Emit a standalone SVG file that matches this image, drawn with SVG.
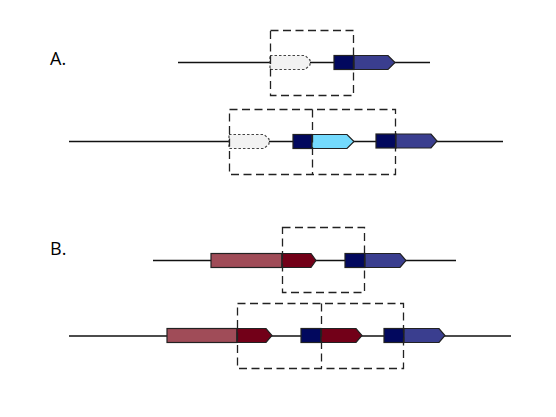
<svg xmlns="http://www.w3.org/2000/svg" width="556" height="417" viewBox="0 0 556 417">
<style>
.bb{stroke:#111;stroke-width:1.3;fill:none}
.g{stroke:#222;stroke-width:1.2;stroke-linejoin:miter}
.ghost{fill:#f2f2f2;stroke:#444;stroke-width:1.2;stroke-dasharray:2.5,2}
.box{fill:none;stroke:#222;stroke-width:1.3;stroke-dasharray:8,4.5}
.nv{fill:#02085e}
.bl{fill:#3a3e8f}
.lb{fill:#74dafd}
.dr{fill:#720018}
.pk{fill:#a04c58}
.lbl{font-family:"Open Sans","Liberation Sans",sans-serif;font-size:18px;fill:#000}
</style>
<g id="labels">
<text class="lbl" x="50" y="65">A.</text>
<text class="lbl" x="50" y="255">B.</text>
</g>
<g id="backbones">
<line class="bb" x1="178" y1="62.5" x2="430" y2="62.5"/>
<line class="bb" x1="69" y1="141.5" x2="503" y2="141.5"/>
<line class="bb" x1="153" y1="260.5" x2="456" y2="260.5"/>
<line class="bb" x1="69" y1="336" x2="511" y2="336"/>
</g>
<g id="rowA1">
<path class="ghost" d="M270,55.5 H305 L310,60 V65 L305,69.5 H270 Z"/>
<rect class="g nv" x="334" y="55.5" width="20" height="14"/>
<path class="g bl" d="M354,55.5 H388 L395,62.5 L388,69.5 H354 Z"/>
</g>
<g id="rowA2">
<path class="ghost" d="M229,134.5 H264 L269,139 V144 L264,148.5 H229 Z"/>
<rect class="g nv" x="293" y="134.5" width="19" height="14"/>
<path class="g lb" d="M312,134.5 H347 L354,141.5 L347,148.5 H312 Z"/>
<rect class="g nv" x="376" y="134" width="20" height="14"/>
<path class="g bl" d="M396,134 H431 L437,141 L431,148 H396 Z"/>
</g>
<g id="rowB1">
<rect class="g pk" x="211" y="253.5" width="71" height="14"/>
<path class="g dr" d="M282,253.5 H311 L316,260.5 L311,267.5 H282 Z"/>
<rect class="g nv" x="345" y="253.5" width="20" height="14"/>
<path class="g bl" d="M365,253.5 H400 L406,260.5 L400,267.5 H365 Z"/>
</g>
<g id="rowB2">
<rect class="g pk" x="167" y="328.5" width="70" height="14"/>
<path class="g dr" d="M237,328.5 H266 L272,335.5 L266,342.5 H237 Z"/>
<rect class="g nv" x="301" y="328.5" width="20" height="14"/>
<path class="g dr" d="M321,328.5 H356 L362,335.5 L356,342.5 H321 Z"/>
<rect class="g nv" x="384" y="328.5" width="20" height="14"/>
<path class="g bl" d="M404,328.5 H439 L445,335.5 L439,342.5 H404 Z"/>
</g>
<g id="boxes">
<rect class="box" x="270.5" y="30.5" width="83" height="65"/>
<line class="box" x1="353.5" y1="62" x2="353.5" y2="70"/>
<rect class="box" x="229.5" y="109.5" width="166" height="65"/>
<line class="box" x1="312.5" y1="109.5" x2="312.5" y2="174.5"/>
<rect class="box" x="282.5" y="227.5" width="82" height="65"/>
<rect class="box" x="237.5" y="303.5" width="166" height="65"/>
<line class="box" x1="321.5" y1="303.5" x2="321.5" y2="368.5"/>
</g>
</svg>
